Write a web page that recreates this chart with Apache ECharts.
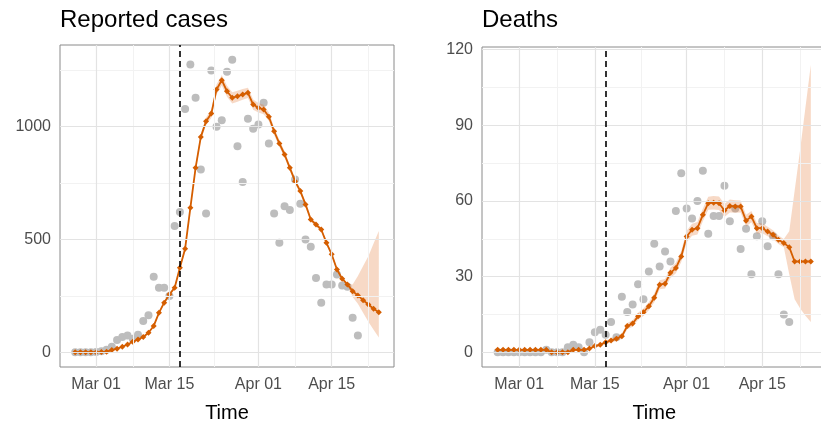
<!DOCTYPE html>
<html><head><meta charset="utf-8">
<script src="https://cdn.jsdelivr.net/npm/echarts@6/dist/echarts.min.js"></script>
<style>html,body{margin:0;padding:0;background:#fff}#c{width:821px;height:423px}</style>
</head><body><div id="c"></div><script>
// Day index 0 = 2020-02-26 ... 58 = 2020-04-24
const startDate = '2020-02-26';
const nDays = 59;
const tickDays = [4, 18, 35, 49];
const tickLabels = ['Mar 01', 'Mar 15', 'Apr 01', 'Apr 15'];
const minorDays = [11, 26.5, 42, 56];
const cutoffDay = 20; // Mar 17

const casesTicks = [0, 500, 1000];
const casesMinor = [250, 750, 1250];
const deathsTicks = [0, 30, 60, 90, 120];
const deathsMinor = [15, 45, 75, 105];

// Reported cases
const casesObs = [0,0,0,1,2,5,12,25,55,68,75,60,78,139,164,335,286,286,250,559,621,1078,1274,1127,810,615,1248,999,1028,1242,1296,913,754,1034,990,1009,1105,925,615,485,647,630,765,658,500,468,329,220,301,301,345,296,290,153,75];
const casesFit = [1,1,1,1,1,2,3,10,16,25,35,47,57,68,87,117,175,220,257,286,375,459,640,817,954,1023,1057,1164,1205,1156,1127,1134,1142,1149,1097,1083,1075,1043,979,925,876,817,758,714,655,588,566,544,485,434,367,326,301,271,252,231,212,193,178];
const casesHi = [1,1,1,1,1,2,3,11,17,27,37,49,60,71,90,121,180,226,264,294,384,470,652,830,968,1040,1076,1186,1228,1180,1152,1158,1166,1172,1120,1104,1096,1062,996,940,890,830,770,726,666,598,575,552,493,441,373,331,305,300,338,382,426,482,537];
const casesLo = [1,1,1,1,1,2,3,9,15,23,33,45,54,65,84,113,170,214,250,278,366,448,628,804,940,1006,1038,1142,1182,1132,1102,1110,1118,1126,1074,1062,1054,1024,962,910,862,804,746,702,644,578,557,536,477,427,361,321,297,245,215,175,135,100,66];

// Deaths
const deathsObs = [0,0,0,0,0,0,0,0,0,1,0,0,0,2,3,2,0,4,8,9,7,12,6,22,16,19,27,21,32,43,34,40,36,56,71,57,53,60,72,47,54,54,66,52,57,41,49,31,46,52,42,46,31,15,12];
const deathsFit = [1,1,1,1,1,1,1,1,1,1,0,0,0,0,1,1,1,1.5,2.5,3,4,4.7,5.4,6.4,10.4,11.4,14.3,15.9,18.3,21.6,26.8,27.2,31.5,33.4,38,45.9,48.6,49.2,54.5,59.1,59.3,59.1,56.2,58,57.8,57.8,52.2,53.8,49.2,49.2,47.9,46.6,44.6,43.3,41.7,36,36,36,36];
const deathsHi = [1.3,1.3,1.3,1.3,1.3,1.3,1.3,1.3,1.3,1.3,0.3,0.3,0.3,0.3,1.3,1.3,1.3,1.9,3,3.6,4.7,5.5,6.3,7.4,11.6,12.7,15.7,17.4,19.9,23.3,28.6,29.1,33.5,35.5,40.2,48.2,51,51.7,57,61.7,62,61.8,58.8,60.6,60.3,60.2,54.5,56,51.3,51.2,49.8,48.4,46.3,44.9,48,64,80,97,114];
const deathsLo = [0.7,0.7,0.7,0.7,0.7,0.7,0.7,0.7,0.7,0.7,0,0,0,0,0.7,0.7,0.7,1.1,2,2.4,3.3,3.9,4.5,5.4,9.2,10.1,12.9,14.4,16.7,19.9,25,25.3,29.5,31.3,35.8,43.6,46.2,46.7,52,56.5,56.6,56.4,53.6,55.4,55.3,55.4,49.9,51.6,47.1,47.2,46,44.8,42.9,41.7,31,21,17.5,14.5,12];

const ORANGE = '#d55e00';
const RIBBON = 'rgba(228,120,50,0.28)';
const GRAY = '#bdbdbd';
const FONT = 'Liberation Sans';

const chart = echarts.init(document.getElementById('c'), null, {renderer: 'canvas'});

function pairs(arr) { return arr.map((v, i) => [i, v]); }

function gridLines(yMajor, yMinor) {
  const d = [];
  yMinor.forEach(v => d.push({yAxis: v, lineStyle: {color: '#f2f2f2', width: 1, type: 'solid'}}));
  minorDays.forEach(v => d.push({xAxis: v, lineStyle: {color: '#f2f2f2', width: 1, type: 'solid'}}));
  yMajor.forEach(v => d.push({yAxis: v, lineStyle: {color: '#e3e3e3', width: 1.2, type: 'solid'}}));
  tickDays.forEach(v => d.push({xAxis: v, lineStyle: {color: '#e3e3e3', width: 1.2, type: 'solid'}}));
  return d;
}

function panelSeries(g, obs, fit, lo, hi, yMajor, yMinor) {
  return [
    { type: 'line', xAxisIndex: g, yAxisIndex: g, data: [[-100, -100000]], showSymbol: false,
      lineStyle: {opacity: 0}, z: 1, silent: true,
      markLine: {silent: true, symbol: ['none', 'none'], label: {show: false}, animation: false, data: gridLines(yMajor, yMinor)} },
    { type: 'scatter', xAxisIndex: g, yAxisIndex: g, data: pairs(obs), symbolSize: 8,
      itemStyle: {color: GRAY, opacity: 1}, z: 2 },
    { type: 'custom', xAxisIndex: g, yAxisIndex: g, data: [[0, 0]], z: 3, silent: true,
      renderItem: function (params, api) {
        const pts = [];
        for (let i = 0; i < hi.length; i++) pts.push(api.coord([i, hi[i]]));
        for (let i = lo.length - 1; i >= 0; i--) pts.push(api.coord([i, lo[i]]));
        return {type: 'polygon', shape: {points: pts}, style: {fill: RIBBON}};
      } },
    { type: 'line', xAxisIndex: g, yAxisIndex: g, data: pairs(fit), symbol: 'diamond', symbolSize: 6,
      showSymbol: true, lineStyle: {color: ORANGE, width: 1.8}, itemStyle: {color: ORANGE}, z: 4 },
    { type: 'line', xAxisIndex: g, yAxisIndex: g, data: [[-100, -100000]], showSymbol: false,
      lineStyle: {opacity: 0}, z: 5, silent: true,
      markLine: {silent: true, symbol: ['none', 'none'], label: {show: false}, animation: false,
        data: [{xAxis: cutoffDay, lineStyle: {color: '#000', width: 1.6, type: [6, 4]}}]} }
  ];
}

function xAx(g) {
  return { gridIndex: g, type: 'value', min: -2.9, max: 60.9,
    axisLine: {show: false}, splitLine: {show: false},
    axisTick: {show: true, customValues: tickDays, length: 4, lineStyle: {color: '#333', width: 1}},
    axisLabel: {customValues: tickDays, formatter: v => tickLabels[tickDays.indexOf(v)] || '',
      color: '#4d4d4d', fontSize: 16, fontFamily: FONT, margin: 10},
    name: 'Time', nameLocation: 'middle', nameGap: 36,
    nameTextStyle: {fontSize: 20, color: '#000', fontFamily: FONT} };
}
function yAx(g, min, max, ticks) {
  return { gridIndex: g, type: 'value', min: min, max: max,
    axisLine: {show: false}, splitLine: {show: false},
    axisTick: {show: true, customValues: ticks, length: 4, lineStyle: {color: '#333', width: 1}},
    axisLabel: {customValues: ticks, formatter: v => String(v), color: '#4d4d4d', fontSize: 16, fontFamily: FONT, margin: 9, padding: [3, 0, 0, 0]} };
}

chart.setOption({
  animation: false,
  backgroundColor: '#fff',
  title: [
    {text: 'Reported cases', left: 60, top: 8, padding: 0, textStyle: {fontSize: 24, fontWeight: 'normal', color: '#000', fontFamily: FONT}},
    {text: 'Deaths', left: 482, top: 8, padding: 0, textStyle: {fontSize: 24, fontWeight: 'normal', color: '#000', fontFamily: FONT}}
  ],
  grid: [
    {left: 60, top: 45, width: 334, height: 322, show: true, borderColor: '#8a8a8a', borderWidth: 1, backgroundColor: 'transparent', containLabel: false, outerBoundsMode: 'none'},
    {left: 482, top: 47, width: 344.5, height: 320, show: true, borderColor: '#8a8a8a', borderWidth: 1, backgroundColor: 'transparent', containLabel: false, outerBoundsMode: 'none'}
  ],
  xAxis: [xAx(0), xAx(1)],
  yAxis: [yAx(0, -64.8, 1360.8, casesTicks), yAx(1, -5.8, 121, deathsTicks)],
  series: [].concat(
    panelSeries(0, casesObs, casesFit, casesLo, casesHi, casesTicks, casesMinor),
    panelSeries(1, deathsObs, deathsFit, deathsLo, deathsHi, deathsTicks, deathsMinor)
  )
});
</script></body></html>
